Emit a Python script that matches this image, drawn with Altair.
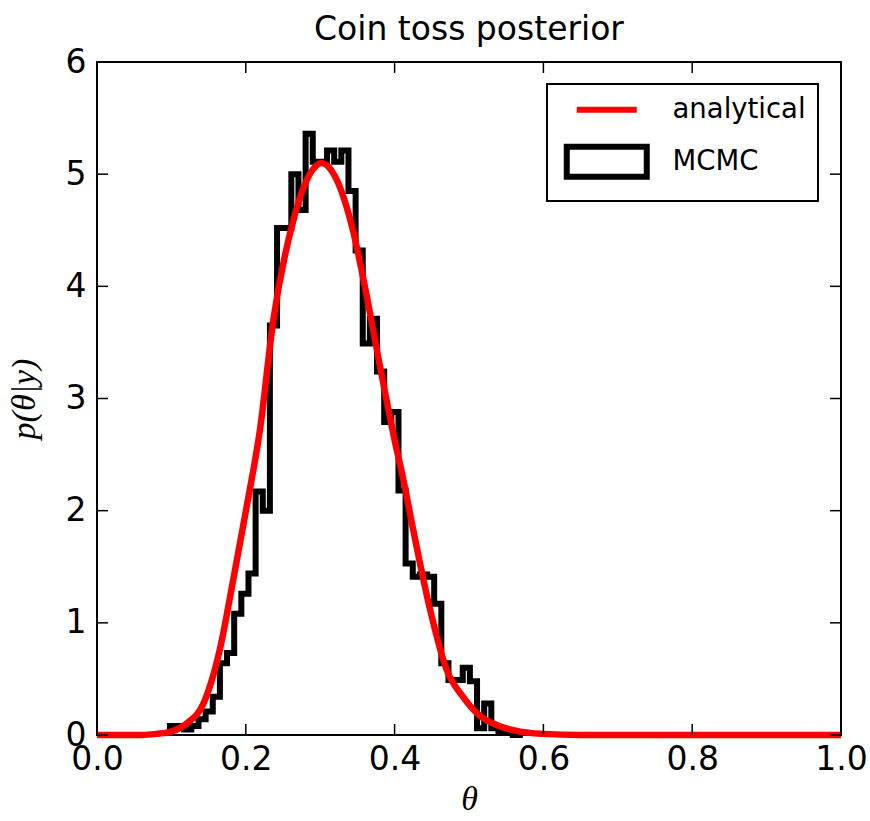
import altair as alt
import pandas as pd

# ---- data ----
hist_start = 0.098
bin_width = 0.0096
mcmc_heights = [0.08, 0.08, 0.05, 0.08, 0.14, 0.21, 0.34, 0.64, 0.73, 1.08,
                1.26, 1.44, 2.17, 2.00, 3.65, 4.52, 4.52, 5.00, 4.68, 5.36,
                5.11, 5.11, 5.21, 5.11, 5.21, 4.85, 4.32, 3.49, 3.71, 3.24,
                2.79, 2.88, 2.18, 1.53, 1.41, 1.43, 1.41, 1.17, 0.64, 0.49,
                0.49, 0.60, 0.48, 0.06, 0.28, 0.06, 0.03, 0.02, 0.00, 0.02]

theta_pts = [0.0, 0.06, 0.08, 0.10, 0.12, 0.143, 0.165, 0.183, 0.201, 0.219,
             0.237, 0.264, 0.286, 0.302, 0.32, 0.344, 0.36, 0.38, 0.40, 0.412,
             0.425, 0.448, 0.47, 0.492, 0.515, 0.537, 0.569, 0.60, 0.65, 1.0]
analytic_vals = [0.0, 0.0, 0.01, 0.03, 0.10, 0.28, 0.76, 1.38, 2.03, 2.72,
                 3.70, 4.59, 5.00, 5.10, 4.98, 4.50, 4.00, 3.30, 2.63, 2.27,
                 1.83, 1.11, 0.58, 0.34, 0.17, 0.09, 0.03, 0.01, 0.0, 0.0]

x_ticks = [0.0, 0.2, 0.4, 0.6, 0.8, 1.0]
y_ticks = [0, 1, 2, 3, 4, 5, 6]
series_names = ["analytical", "MCMC"]
series_colors = ["#ff0000", "#000000"]
# legend glyphs: a short line for the curve, an open box for the histogram
series_glyphs = ["M0.4,0H6.4", "M-0.6,-1.5H7.4V1.5H-0.6Z"]

# ---- tables ----
edges = [round(hist_start + i * bin_width, 5) for i in range(len(mcmc_heights) + 1)]
hx = [edges[0]] + edges[:-1] + [edges[-1]]
hy = [0.0] + mcmc_heights + [0.0]
hist_df = pd.DataFrame({"theta": hx, "density": hy, "series": "MCMC",
                        "order": list(range(len(hx)))})
ana_df = pd.DataFrame({"theta": theta_pts, "density": analytic_vals,
                       "series": "analytical"})
legend_df = pd.DataFrame({"theta": pd.Series([], dtype=float),
                          "density": pd.Series([], dtype=float),
                          "series": pd.Series([], dtype=str)})
xt_df = pd.DataFrame({"v": x_ticks})
yt_df = pd.DataFrame({"v": y_ticks})

W, H = 744, 673
TICK = 11

xscale = alt.Scale(domain=[0, 1], nice=False, zero=False)
yscale = alt.Scale(domain=[0, 6], nice=False)

xaxis = alt.Axis(values=x_ticks, format=".1f", ticks=False, domain=False, grid=False,
                 labelFlush=False, labelPadding=8, labelFont="DejaVu Sans",
                 labelFontSize=33, labelColor="black", title="θ",
                 titleFont="Liberation Serif", titleFontStyle="italic",
                 titleFontWeight="normal", titleFontSize=34, titleColor="black",
                 titlePadding=6)
yaxis = alt.Axis(values=y_ticks, format="d", ticks=False, domain=False, grid=False,
                 labelFlush=False, labelPadding=11, labelFont="DejaVu Sans",
                 labelFontSize=33, labelColor="black", title="p(θ|y)",
                 titleFont="Liberation Serif", titleFontStyle="italic",
                 titleFontWeight="normal", titleFontSize=34, titleColor="black",
                 titlePadding=24)

legend = alt.Legend(
    title=None, orient="none", legendX=450, legendY=22,
    labelFont="DejaVu Sans", labelFontSize=27.5, labelColor="black",
    strokeColor="black", fillColor="white", padding=12,
    symbolSize=400, symbolStrokeWidth=6, symbolFillColor="transparent",
    symbolOpacity=1, labelOffset=86, rowPadding=10,
)

color = alt.Color("series:N", scale=alt.Scale(domain=series_names, range=series_colors),
                  legend=legend)
shape = alt.Shape("series:N", scale=alt.Scale(domain=series_names, range=series_glyphs),
                  legend=legend)

hist = alt.Chart(hist_df).mark_line(interpolate="step-after", strokeWidth=6,
                                    strokeJoin="miter").encode(
    x=alt.X("theta:Q", scale=xscale, axis=xaxis),
    y=alt.Y("density:Q", scale=yscale, axis=yaxis),
    order=alt.Order("order:Q"),
    color=color,
)

ana = alt.Chart(ana_df).mark_line(interpolate="monotone", strokeWidth=6.5).encode(
    x=alt.X("theta:Q", scale=xscale),
    y=alt.Y("density:Q", scale=yscale),
    color=color,
)

leg = alt.Chart(legend_df).mark_point(filled=False, strokeWidth=6).encode(
    x=alt.X("theta:Q", scale=xscale),
    y=alt.Y("density:Q", scale=yscale),
    color=color,
    shape=shape,
)

ytl = alt.Chart(yt_df).mark_rule(color="black", strokeWidth=1.5).encode(
    y=alt.Y("v:Q", scale=yscale), x=alt.value(0), x2=alt.value(TICK))
ytr = alt.Chart(yt_df).mark_rule(color="black", strokeWidth=1.5).encode(
    y=alt.Y("v:Q", scale=yscale), x=alt.value(W - TICK), x2=alt.value(W))
xtb = alt.Chart(xt_df).mark_rule(color="black", strokeWidth=1.5).encode(
    x=alt.X("v:Q", scale=xscale), y=alt.value(H - TICK), y2=alt.value(H))
xtt = alt.Chart(xt_df).mark_rule(color="black", strokeWidth=1.5).encode(
    x=alt.X("v:Q", scale=xscale), y=alt.value(0), y2=alt.value(TICK))

chart = alt.layer(hist, ana, leg, ytl, ytr, xtb, xtt).properties(
    width=W, height=H,
    title=alt.TitleParams("Coin toss posterior", font="DejaVu Sans", fontSize=33,
                          fontWeight="normal", color="black", offset=-1),
    autosize=alt.AutoSizeParams(type="none"),
    padding={"left": 97, "top": 62, "right": 29, "bottom": 86},
).configure_view(stroke="black", strokeWidth=2).configure_legend(strokeWidth=2)

chart.save("out.html", embed_options={"renderer": "svg", "actions": False})
